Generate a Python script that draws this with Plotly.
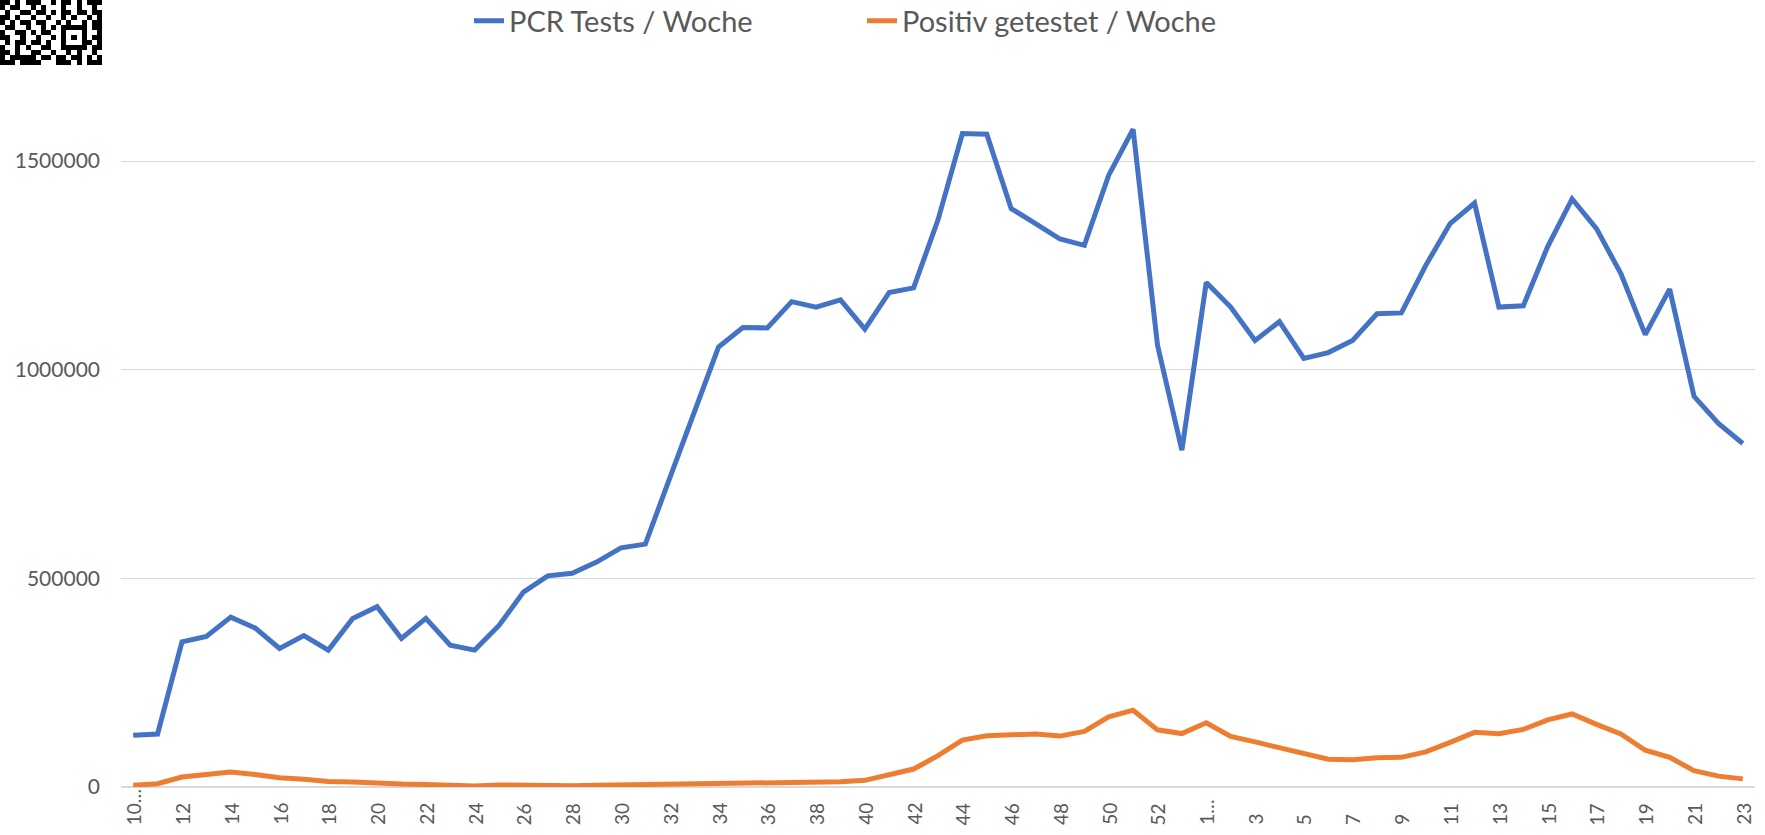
import plotly.graph_objects as go

# ---------------- data ----------------
kw_2020 = [10, 11, 12, 13, 14, 15, 16, 17, 18, 19, 20, 21, 22, 23, 24, 25, 26, 27, 28, 29, 30, 31,
           32, 33, 34, 35, 36, 37, 38, 39, 40, 41, 42, 43, 44, 45, 46, 47, 48, 49, 50, 51, 52, 53]
kw_2021 = [1, 2, 3, 4, 5, 6, 7, 8, 9, 10, 11, 12, 13, 14, 15, 16, 17, 18, 19, 20, 21, 22, 23]

pcr_tests = [124000, 127000, 348000, 361000, 407000, 381000, 332000, 363000, 328000, 404000,
             432000, 356000, 404000, 340000, 328000, 387000, 467000, 506000, 512000, 539000,
             573000, 582000, 740000, 893000, 1054000, 1101000, 1100000, 1163000, 1150000, 1167000,
             1097000, 1185000, 1196000, 1359000, 1566000, 1564000, 1386000, 1350000, 1313000, 1298000,
             1466000, 1576000, 1059000, 807000,
             1209000, 1150000, 1070000, 1115000, 1027000, 1041000, 1070000, 1134000, 1136000, 1250000,
             1350000, 1399000, 1150000, 1153000, 1295000, 1409000, 1338000, 1230000, 1084000, 1193000,
             936000, 871000, 823000]

positiv = [4000, 8000, 24000, 31000, 36000, 30000, 22000, 18500, 13000, 12000,
           8000, 7000, 6000, 4000, 2500, 5000, 4000, 3500, 3200, 4300,
           5000, 6000, 7500, 8000, 8500, 7800, 7500, 9000, 11000, 12500,
           16000, 28000, 43000, 75000, 112500, 123000, 125000, 127000, 122000, 133000,
           168000, 184000, 137000, 128000,
           154000, 121000, 108000, 95000, 80000, 66500, 65500, 70000, 71000, 84000,
           107000, 131000, 127500, 138000, 161000, 175000, 150000, 127000, 88000, 71000,
           39000, 26000, 19500]

tick_labels = ["10…", "12", "14", "16", "18", "20", "22", "24", "26", "28", "30", "32", "34",
               "36", "38", "40", "42", "44", "46", "48", "50", "52",
               "1…", "3", "5", "7", "9", "11", "13", "15", "17", "19", "21", "23"]

y_ticks = [0, 500000, 1000000, 1500000]

series_names = ["PCR Tests / Woche", "Positiv getestet / Woche"]

# decorative QR fragment (top-left corner of the source picture)
qr_rows = [
    "##.#.###..#.##.#.###",
    "#.##..#.#...#..#..#.",
    ".#..##.##.#.##.##.##",
    "##.#..#..#..#.#..#.#",
    "#.#.##.##..#.#..#.##",
    ".##..#..#.#.#####.##",
    "#..##.#.##..#...#..#",
    "##..#..#..#.#.#.#.##",
    ".#.##.##.#..#...##.#",
    "#..#.#..##..#####.##",
    "##.#..##..#..#.#..#.",
    "#.#####.##.##.##.#.#",
    "###.####...###.#.###",
]

# ---------------- figure ----------------
W, H = 1765, 835
categories = [f"{w}/2020" for w in kw_2020] + [f"{w}/2021" for w in kw_2021]
tick_vals = categories[::2]

font_family = "Lato, 'Open Sans', sans-serif"
text_color = "#595959"
grid_color = "#d9d9d9"

# plot area in pixels
px_left, px_right = 121, 1755
px_zero, px_top = 787, 60
px_1500k = 161
y_max = 1500000 * (px_zero - px_top) / (px_zero - px_1500k)

fig = go.Figure()
fig.add_trace(go.Scatter(
    x=categories, y=pcr_tests, mode="lines", name=series_names[0],
    line=dict(color="#4472C4", width=5), legend="legend", hoverinfo="x+y"))
fig.add_trace(go.Scatter(
    x=categories, y=positiv, mode="lines", name=series_names[1],
    line=dict(color="#ED7D31", width=5), legend="legend2", hoverinfo="x+y"))

qr_z = [[1 if c == "#" else 0 for c in row] for row in qr_rows]
fig.add_trace(go.Heatmap(
    z=qr_z, xaxis="x2", yaxis="y2", showscale=False, hoverinfo="skip",
    colorscale=[[0, "white"], [1, "black"]], zmin=0, zmax=1, showlegend=False))

qr_w = len(qr_rows[0]) * 5.1
qr_h = len(qr_rows) * 5.0

# category labels: rotated, reading upward, starting from a common bottom line
x_label_annotations = [
    dict(x=cat, xref="x", y=1 - 827 / H, yref="paper",
         text=lab, textangle=-90, showarrow=False,
         xanchor="center", yanchor="bottom",
         font=dict(family=font_family, size=19, color=text_color))
    for cat, lab in zip(tick_vals, tick_labels)
]

fig.update_layout(
    width=W, height=H,
    margin=dict(l=0, r=0, t=0, b=0, autoexpand=False),
    paper_bgcolor="white", plot_bgcolor="white",
    font=dict(family=font_family, color=text_color, size=21),
    xaxis=dict(
        domain=[px_left / W, px_right / W],
        type="category", range=[-0.5, len(categories) - 0.5],
        tickmode="array", tickvals=tick_vals, ticktext=tick_labels,
        showticklabels=False, showgrid=False, zeroline=False, showline=False,
        ticks="", automargin=False, fixedrange=True),
    yaxis=dict(
        domain=[1 - px_zero / H, 1 - px_top / H],
        range=[0, y_max], tickmode="array", tickvals=y_ticks, tickformat="d",
        showgrid=True, gridcolor=grid_color, gridwidth=1.3,
        zeroline=True, zerolinecolor=grid_color, zerolinewidth=1.5,
        showline=False, ticks="", ticklabelstandoff=20,
        tickfont=dict(family=font_family, size=21, color=text_color),
        automargin=False, fixedrange=True),
    xaxis2=dict(domain=[0, qr_w / W], visible=False, fixedrange=True,
                range=[-0.5, len(qr_rows[0]) - 0.5]),
    yaxis2=dict(domain=[1 - qr_h / H, 1], visible=False, fixedrange=True,
                range=[len(qr_rows) - 0.5, -0.5]),
    legend=dict(orientation="h", x=(474 - 5) / W, y=1 - 21 / H,
                xanchor="left", yanchor="middle",
                font=dict(family=font_family, size=29, color=text_color),
                bgcolor="rgba(0,0,0,0)"),
    legend2=dict(orientation="h", x=(867 - 5) / W, y=1 - 21 / H,
                 xanchor="left", yanchor="middle",
                 font=dict(family=font_family, size=29, color=text_color),
                 bgcolor="rgba(0,0,0,0)"),
    showlegend=True,
    annotations=x_label_annotations,
)

fig.write_html("out.html", include_plotlyjs=True, full_html=True,
               config={"displayModeBar": False},
               post_script="document.body.style.margin='0';document.body.style.overflow='hidden';")
